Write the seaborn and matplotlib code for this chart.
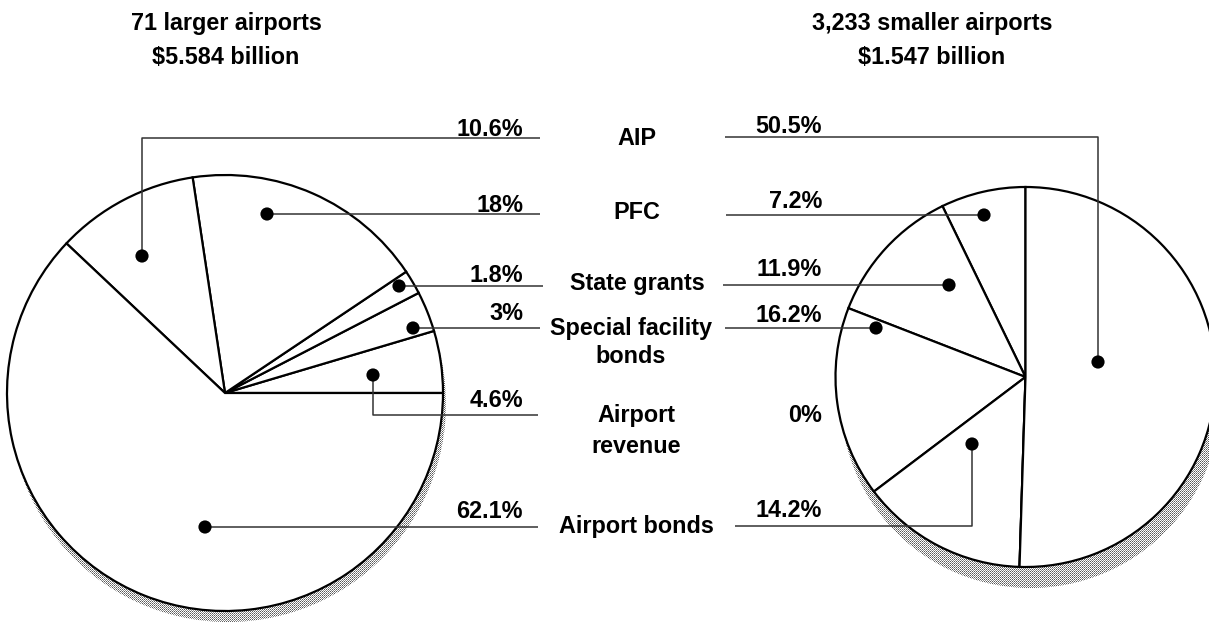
import numpy as np
import matplotlib
matplotlib.use("Agg")
import matplotlib.pyplot as plt
import seaborn as sns
from matplotlib.patches import Circle

# ---------------- data ----------------
categories = ["AIP", "PFC", "State grants", "Special facility bonds",
              "Airport revenue", "Airport bonds"]
category_lines = [["AIP"], ["PFC"], ["State grants"], ["Special facility", "bonds"],
                  ["Airport", "revenue"], ["Airport bonds"]]
larger_share = [10.6, 18, 1.8, 3, 4.6, 62.1]     # 71 larger airports
smaller_share = [50.5, 7.2, 11.9, 16.2, 0, 14.2]  # 3,233 smaller airports
larger_title = ["71 larger airports", "$5.584 billion"]
smaller_title = ["3,233 smaller airports", "$1.547 billion"]

# ---------------- layout (pixel coordinates, y measured from top) ----------------
W, H = 1209, 626
def Y(y):
    return H - y

left_pie = dict(center=(225, 393), r=218, start=0, order=[4, 3, 2, 1, 0, 5], shadow=(3, 11))
right_pie = dict(center=(1025.5, 377), r=190, start=90, order=[1, 2, 3, 5, 4, 0], shadow=(5, 21))

left_rows = [138, 214, 286, 328, 415, 527]
right_rows = [137, 215, 285, 328, None, 526]
left_end_x = [540, 540, 543, 540, 538, 538]
right_start_x = [725, 726, 723, 725, None, 735]
left_dots = [(142, 256), (267, 214), (399, 286), (413, 328), (373, 375), (205, 527)]
right_dots = [(1098, 362), (984, 215), (949, 285), (876, 328), None, (972, 444)]
left_pct_base = [136, 212, 282, 320, 407, 518]
right_pct_base = [133, 208, 276, 322, 422, 517]
label_x = [637, 637, 637, 631, 636, 636]
label_base = [[145], [219], [290], [335, 363], [422, 453], [533]]

FONT = ["Liberation Sans", "DejaVu Sans"]
FS = 16.8

sns.set_theme(style="white")
plt.rcParams["font.family"] = FONT

fig = plt.figure(figsize=(W / 100, H / 100), dpi=100)
ax = fig.add_axes([0, 0, 1, 1])

# dotted shadow texture
ii, jj = np.indices((H, W))
pattern = np.where((ii % 2 == 0) & (jj % 2 == 0), 0.35, 1.0)
pattern = np.where((ii % 2 == 1) & (jj % 2 == 1), 0.55, pattern)

def draw_pie(spec, values):
    cx, cy = spec["center"]
    sx, sy = spec["shadow"]
    im = ax.imshow(pattern, cmap="gray", vmin=0, vmax=1, extent=(0, W, 0, H),
                   origin="lower", interpolation="nearest", zorder=0)
    im.set_clip_path(Circle((cx + sx, Y(cy + sy)), spec["r"], transform=ax.transData))
    vals = [values[i] for i in spec["order"]]
    ax.pie(vals, center=(cx, Y(cy)), radius=spec["r"], startangle=spec["start"],
           counterclock=True, frame=True,
           wedgeprops=dict(facecolor="white", edgecolor="black", linewidth=1.6,
                           zorder=1))

draw_pie(left_pie, larger_share)
draw_pie(right_pie, smaller_share)

def pct(v):
    return f"{v:g}%"

lead_kw = dict(color="#333333", linewidth=1.1, zorder=2, solid_capstyle="butt")
dot_x, dot_y = [], []
for k in range(len(categories)):
    # left callout
    dx, dy = left_dots[k]
    ax.plot([dx, dx, left_end_x[k]], [Y(dy), Y(left_rows[k]), Y(left_rows[k])], **lead_kw)
    dot_x.append(dx); dot_y.append(Y(dy))
    ax.text(523, Y(left_pct_base[k]), pct(larger_share[k]), ha="right", va="baseline",
            fontsize=FS, fontweight="bold", color="black")
    # right callout
    if right_dots[k] is not None:
        rx, ry = right_dots[k]
        ax.plot([rx, rx, right_start_x[k]], [Y(ry), Y(right_rows[k]), Y(right_rows[k])],
                **lead_kw)
        dot_x.append(rx); dot_y.append(Y(ry))
    ax.text(822, Y(right_pct_base[k]), pct(smaller_share[k]), ha="right", va="baseline",
            fontsize=FS, fontweight="bold", color="black")
    # category label
    for line, b in zip(category_lines[k], label_base[k]):
        ax.text(label_x[k], Y(b), line, ha="center", va="baseline",
                fontsize=FS, fontweight="bold", color="black")

sns.scatterplot(x=dot_x, y=dot_y, ax=ax, color="black", s=90, edgecolor="none",
                legend=False, zorder=3)

for cx, title in [(226, larger_title), (932, smaller_title)]:
    for line, b in zip(title, [30, 64]):
        ax.text(cx, Y(b), line, ha="center", va="baseline", fontsize=FS,
                fontweight="bold", color="black")

ax.set_xlim(0, W)
ax.set_ylim(0, H)
ax.set_aspect("auto")
ax.axis("off")
fig.savefig("out.png", dpi=100, facecolor="white")
